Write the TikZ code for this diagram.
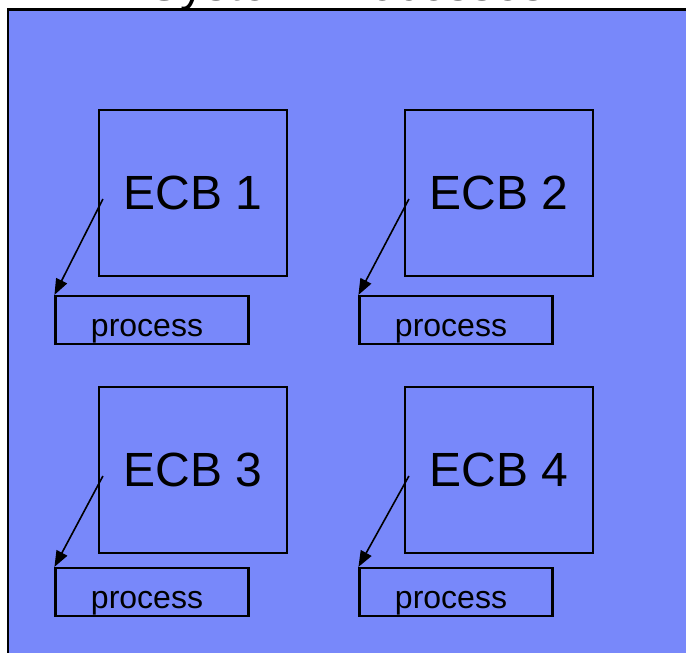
\documentclass[tikz,border=0pt]{standalone}
\usepackage{fontspec}
\setmainfont{Liberation Sans}
\usetikzlibrary{arrows.meta,calc}
\definecolor{panel}{RGB}{120,136,250}
\begin{document}
\begin{tikzpicture}[x=0.75pt,y=-0.75pt,
  ecbbox/.style={draw,line width=1.6pt,minimum width=141pt,minimum height=124.5pt,
    inner sep=0pt,font=\fontsize{36}{42}\selectfont},
  procbox/.style={draw,line width=1.6pt,minimum width=144.75pt,minimum height=36pt,inner sep=0pt},
  proclabel/.style={anchor=base,inner sep=0pt,font=\fontsize{24}{28}\selectfont},
  link/.style={line width=1.2pt,-{Triangle[length=12pt,width=9pt]}}]
\useasboundingbox (0,0) rectangle (686,653);
\begin{scope}
  \clip (0,0) rectangle (686,653);
  % background panel
  \draw[fill=panel,line width=2.2pt] (8,9.5) rectangle (720,700);
  % heading, mostly above the page
  \node[anchor=base west,inner sep=0pt,font=\fontsize{36}{42}\selectfont] (title) at (148,0.5) {System Processes};

  % event control blocks
  \node[ecbbox] (e1) at (193,193) {ECB 1};
  \node[ecbbox] (e2) at (499,193) {ECB 2};
  \node[ecbbox] (e3) at (193,470) {ECB 3};
  \node[ecbbox] (e4) at (499,470) {ECB 4};

  % process boxes
  \node[procbox] (p1) at (152,320) {};
  \node[procbox] (p2) at (456,320) {};
  \node[procbox] (p3) at (152,592) {};
  \node[procbox] (p4) at (456,592) {};
  \node[proclabel] (l1) at (147,336) {process};
  \node[proclabel] (l2) at (451,336) {process};
  \node[proclabel] (l3) at (147,608) {process};
  \node[proclabel] (l4) at (451,608) {process};

  % links from each ECB to its process
  \draw[link] ($(e1.west)+(5,6)$) -- (p1.north west);
  \draw[link] ($(e2.west)+(5,6)$) -- (p2.north west);
  \draw[link] ($(e3.west)+(5,6)$) -- (p3.north west);
  \draw[link] ($(e4.west)+(5,6)$) -- (p4.north west);
\end{scope}
\end{tikzpicture}
\end{document}
